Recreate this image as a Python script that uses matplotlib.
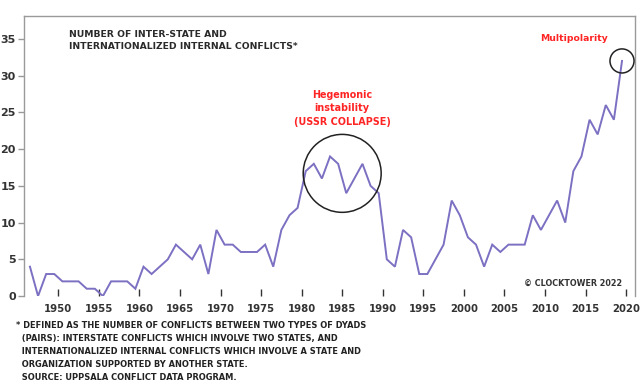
import numpy as np
import matplotlib.pyplot as plt

# conflicts per year, 1946-2019
years = list(range(1946, 2020))
conflicts = [4, 0, 3, 3, 2, 2, 2, 1, 1, 0,
             2, 2, 2, 1, 4, 3, 4, 5, 7, 6,
             5, 7, 3, 9, 7, 7, 6, 6, 6, 7,
             4, 9, 11, 12,
             17, 18, 16, 19, 18, 14, 16, 18, 15, 14,
             5, 4, 9, 8, 3, 3, 5, 7, 13, 11,
             8, 7, 4, 7, 6, 7, 7, 7, 11, 9,
             11, 13, 10, 17, 19, 24, 22, 26, 24, 32]
xticks = list(range(1950, 2021, 5))
yticks = list(range(0, 36, 5))

title = "NUMBER OF INTER-STATE AND\nINTERNATIONALIZED INTERNAL CONFLICTS*"
note = ("* DEFINED AS THE NUMBER OF CONFLICTS BETWEEN TWO TYPES OF DYADS\n"
        "  (PAIRS): INTERSTATE CONFLICTS WHICH INVOLVE TWO STATES, AND\n"
        "  INTERNATIONALIZED INTERNAL CONFLICTS WHICH INVOLVE A STATE AND\n"
        "  ORGANIZATION SUPPORTED BY ANOTHER STATE.\n"
        "  SOURCE: UPPSALA CONFLICT DATA PROGRAM.")

plt.rcParams['font.family'] = ['DejaVu Sans']

fig = plt.figure(figsize=(6.44, 3.84), dpi=100)
ax = fig.add_axes([0.0373, 0.229, 0.9487, 0.729])

x = np.array(years) + 0.5  # mid-year
ax.plot(x, conflicts, color='#7B70C2', lw=1.4, solid_joinstyle='miter')

# highlight circles
ax.scatter([1985.0], [16.7], s=3150, facecolors='none', edgecolors='#222222', linewidths=1.1, zorder=3)
ax.scatter([x[-1]], [conflicts[-1]], s=300, facecolors='none', edgecolors='#222222', linewidths=1.1, zorder=3)

ax.set_xlim(1945.77, 2021.1)
ax.set_ylim(0, 38.1)
ax.set_xticks(xticks)
ax.set_yticks(yticks)
ax.tick_params(axis='x', direction='in', length=5, width=1, color='#333333', pad=6,
               labelsize=7.3, labelcolor='#333333')
ax.tick_params(axis='y', direction='out', length=4, width=1, color='#999999', pad=2,
               labelsize=8, labelcolor='#333333')
for lab in ax.get_xticklabels() + ax.get_yticklabels():
    lab.set_fontweight('bold')

for s in ['top', 'right', 'left']:
    ax.spines[s].set_color('#9a9a9a')
    ax.spines[s].set_linewidth(1.0)
ax.spines['bottom'].set_visible(False)

ax.text(1951.3, 36.2, title, fontsize=6.7, fontweight='bold', color='#2a2a2a',
        va='top', ha='left', linespacing=1.45)
ax.text(1985.0, 28.1, "Hegemonic\ninstability\n(USSR COLLAPSE)", fontsize=6.9,
        fontweight='bold', color='#FF2424', ha='center', va='top', linespacing=1.45)
ax.text(2013.6, 35.0, "Multipolarity", fontsize=6.7, fontweight='bold',
        color='#FF2424', ha='center', va='center')
ax.text(2019.5, 1.7, "© CLOCKTOWER 2022", fontsize=5.8, fontweight='bold',
        color='#333333', ha='right', va='center')

fig.text(0.025, 0.163, note, fontsize=5.95, fontweight='bold', color='#222222',
         va='top', ha='left', linespacing=1.55)

fig.savefig('out.png', dpi=100)
